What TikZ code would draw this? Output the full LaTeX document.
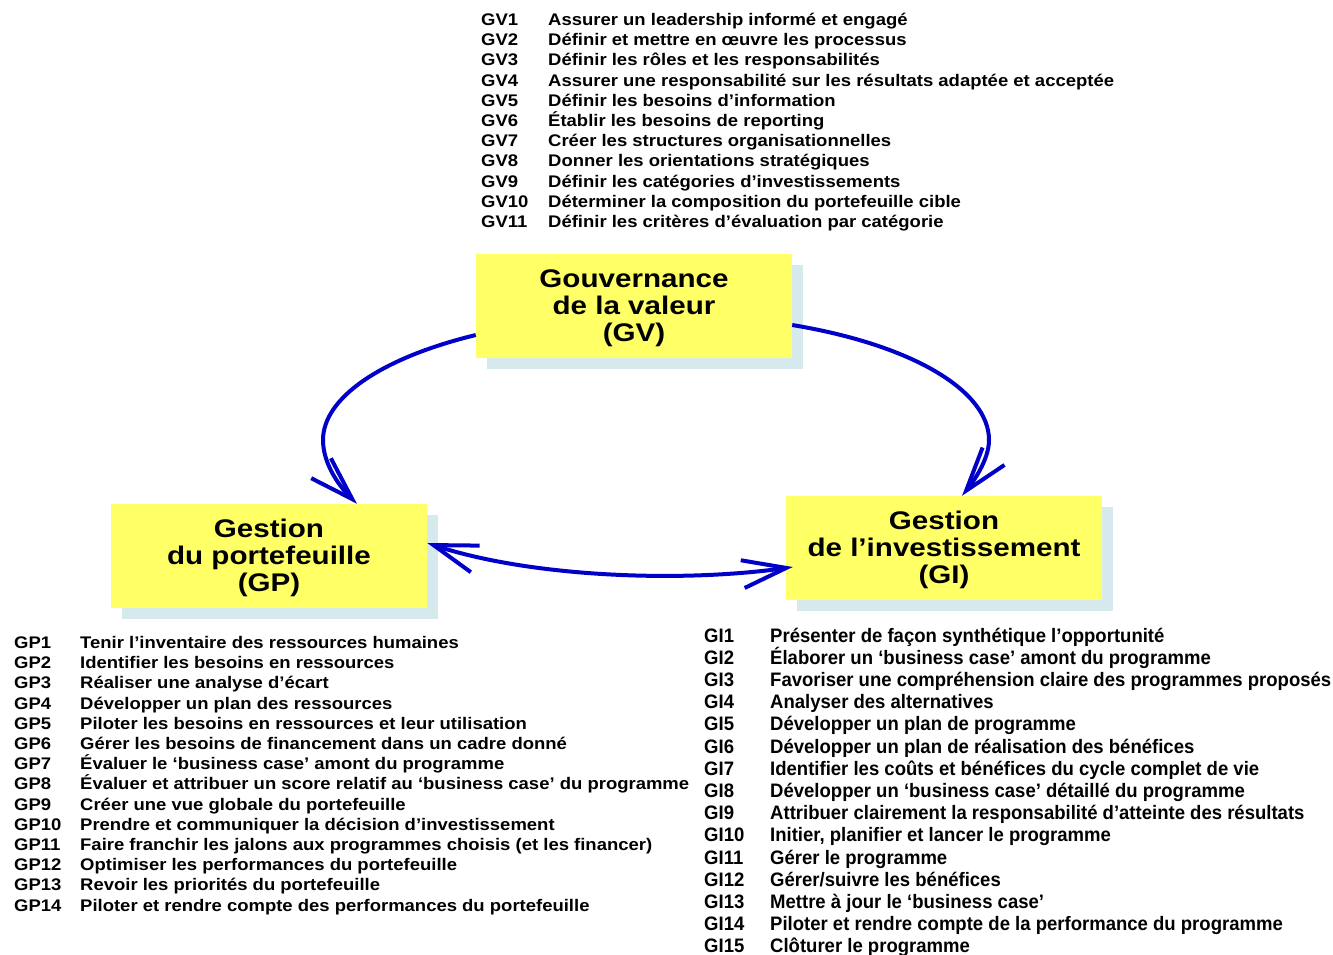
\documentclass[tikz,border=0pt]{standalone}
\usepackage{fontspec}
\setmainfont{Liberation Sans}
\newfontfamily\boxfont{Liberation Sans}[FakeStretch=1.16]
\newfontfamily\listfont{Liberation Sans}[FakeStretch=1.1]
\newfontfamily\narrowfont{Liberation Sans}[FakeStretch=0.95]
\usetikzlibrary{arrows.meta,shadows}
\definecolor{boxyellow}{RGB}{255,255,102}
\definecolor{shadowcyan}{RGB}{214,234,238}
\definecolor{flowblue}{RGB}{0,0,200}
\newcommand{\toprow}{\rule{0pt}{22.5pt}}
\tikzset{
  areabox/.style={fill=boxyellow, minimum width=316pt, minimum height=104pt,
    inner sep=0pt, align=center,
    font=\boxfont\bfseries\fontsize{25.5}{26.7}\selectfont,
    drop shadow={shadow xshift=11pt, shadow yshift=-11pt, fill=shadowcyan, opacity=1}},
  barb/.tip={Straight Barb[length=44pt,width=28pt]},
  flowarrow/.style={draw=flowblue, line width=4pt, -barb},
  flowboth/.style={draw=flowblue, line width=4pt, barb-barb},
  itemlabel/.style={anchor=base west, inner sep=0pt,
    font=\listfont\bfseries\fontsize{16.8}{18}\selectfont},
  gilabel/.style={anchor=base west, inner sep=0pt,
    font=\narrowfont\bfseries\fontsize{19.5}{22}\selectfont}
}
\begin{document}
\begin{tikzpicture}[x=1pt,y=-1pt]
\useasboundingbox (0,0) rectangle (1333,954);

% the three domains
\node[areabox] (gv) at (634,306) {\toprow Gouvernance\\de la valeur\\(GV)};
\node[areabox] (gp) at (269,556) {\toprow Gestion\\du portefeuille\\(GP)};
\node[areabox] (gi) at (944,548) {\toprow Gestion\\de l’investissement\\(GI)};

% cycle between the domains
\draw[flowarrow] ([yshift=-29pt]gv.west) .. controls (381,358) and (323,398) .. (323,440)
  .. controls (323,462) and (337,484) .. ([xshift=88pt]gp.north);
\draw[flowarrow] ([yshift=-19pt]gv.east) .. controls (913,345) and (989,391) .. (989,440)
  .. controls (989,460) and (973,482) .. ([xshift=18pt]gi.north);
\draw[flowboth] ([yshift=13pt]gp.east) .. controls (530,577) and (680,583)
  .. ([xshift=7pt,yshift=-19pt]gi.west);

% value governance processes
\foreach \k/\t [count=\i from 0] in {
  GV1/Assurer un leadership informé et engagé,
  GV2/Définir et mettre en œuvre les processus,
  GV3/Définir les rôles et les responsabilités,
  GV4/Assurer une responsabilité sur les résultats adaptée et acceptée,
  GV5/Définir les besoins d’information,
  GV6/Établir les besoins de reporting,
  GV7/Créer les structures organisationnelles,
  GV8/Donner les orientations stratégiques,
  GV9/Définir les catégories d’investissements,
  GV10/Déterminer la composition du portefeuille cible,
  GV11/Définir les critères d’évaluation par catégorie}{
  \node[itemlabel] (gvk\i) at (481,{25.5+20.2*\i}) {\k};
  \node[itemlabel] (gvt\i) at (548,{25.5+20.2*\i}) {\t};
}

% portfolio management processes
\foreach \k/\t [count=\i from 0] in {
  GP1/Tenir l’inventaire des ressources humaines,
  GP2/Identifier les besoins en ressources,
  GP3/Réaliser une analyse d’écart,
  GP4/Développer un plan des ressources,
  GP5/Piloter les besoins en ressources et leur utilisation,
  GP6/Gérer les besoins de financement dans un cadre donné,
  GP7/Évaluer le ‘business case’ amont du programme,
  GP8/Évaluer et attribuer un score relatif au ‘business case’ du programme,
  GP9/Créer une vue globale du portefeuille,
  GP10/Prendre et communiquer la décision d’investissement,
  GP11/Faire franchir les jalons aux programmes choisis (et les financer),
  GP12/Optimiser les performances du portefeuille,
  GP13/Revoir les priorités du portefeuille,
  GP14/Piloter et rendre compte des performances du portefeuille}{
  \node[itemlabel] (gpk\i) at (14,{648.5+20.2*\i}) {\k};
  \node[itemlabel] (gpt\i) at (80,{648.5+20.2*\i}) {\t};
}

% investment management processes
\foreach \k/\t [count=\i from 0] in {
  GI1/Présenter de façon synthétique l’opportunité,
  GI2/Élaborer un ‘business case’ amont du programme,
  GI3/Favoriser une compréhension claire des programmes proposés,
  GI4/Analyser des alternatives,
  GI5/Développer un plan de programme,
  GI6/Développer un plan de réalisation des bénéfices,
  GI7/Identifier les coûts et bénéfices du cycle complet de vie,
  GI8/Développer un ‘business case’ détaillé du programme,
  GI9/Attribuer clairement la responsabilité d’atteinte des résultats,
  GI10/{Initier, planifier et lancer le programme},
  GI11/Gérer le programme,
  GI12/{Gérer/suivre les bénéfices},
  GI13/Mettre à jour le ‘business case’,
  GI14/Piloter et rendre compte de la performance du programme,
  GI15/Clôturer le programme}{
  \node[gilabel] (gik\i) at (704,{642+22.2*\i}) {\k};
  \node[gilabel] (git\i) at (770,{642+22.2*\i}) {\t};
}
\end{tikzpicture}
\end{document}
